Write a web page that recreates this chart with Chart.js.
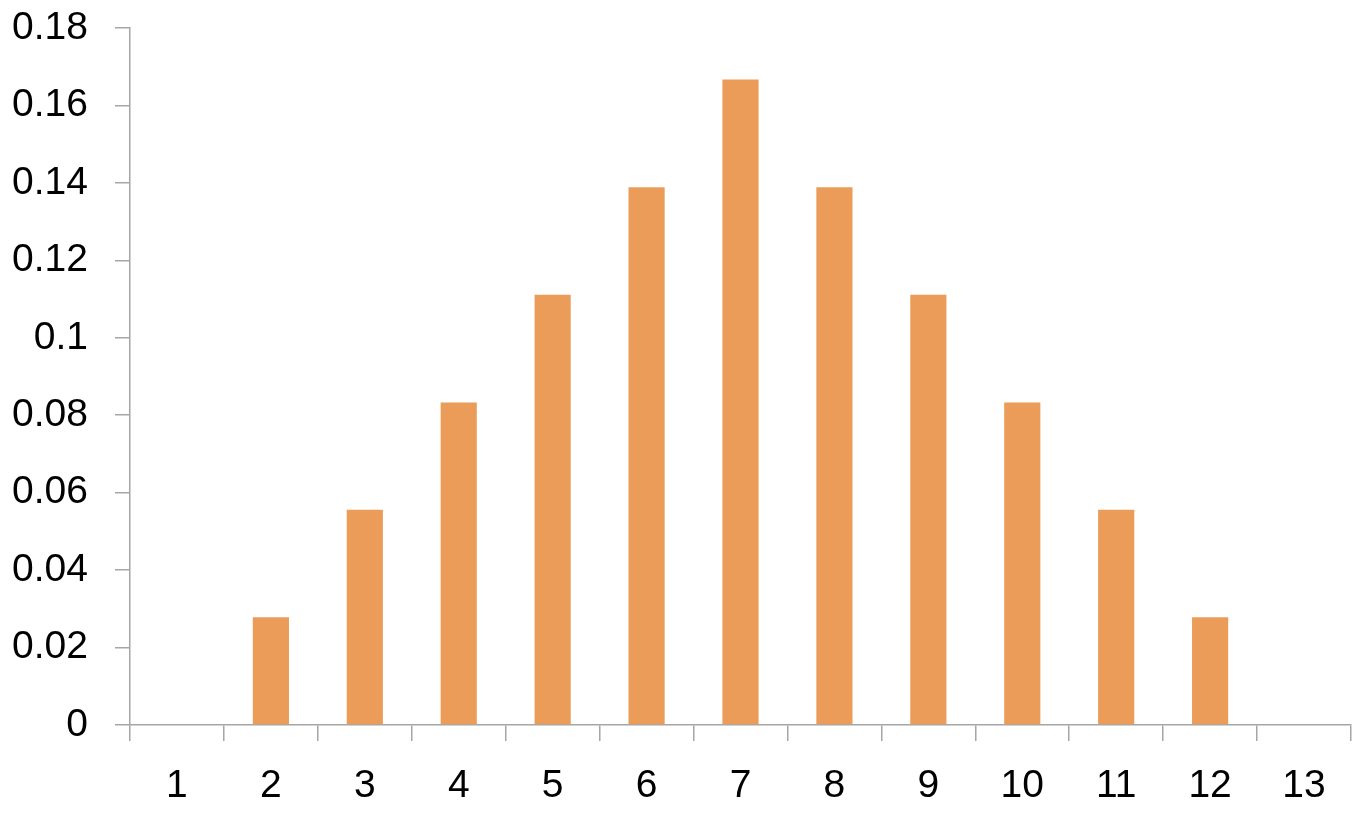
<!DOCTYPE html>
<html>
<head>
<meta charset="utf-8">
<script src="https://cdn.jsdelivr.net/npm/chart.js@4/dist/chart.umd.min.js"></script>
<style>
  html, body { margin: 0; padding: 0; background: #fff; }
  #wrap { width: 1368px; height: 816px; }
</style>
</head>
<body>
<div id="wrap"><canvas id="sumChart" width="1368" height="816"></canvas></div>
<script>
// categories (sum of two dice style) and probabilities
const categories = ['1', '2', '3', '4', '5', '6', '7', '8', '9', '10', '11', '12', '13'];
const probabilities = [0, 0.0278, 0.0556, 0.0833, 0.1111, 0.1389, 0.1667, 0.1389, 0.1111, 0.0833, 0.0556, 0.0278, 0];
const yMin = 0;
const yMax = 0.18;
const yStep = 0.02;

const axisGray = '#a6a6a6';
const fontSpec = { family: '"Liberation Sans", Arial, sans-serif', size: 39 };

const sumChart = new Chart(document.getElementById('sumChart'), {
  type: 'bar',
  data: {
    labels: categories,
    datasets: [{
      data: probabilities,
      backgroundColor: '#ea9c58',
      borderWidth: 0,
      barPercentage: 0.385,
      categoryPercentage: 1
    }]
  },
  options: {
    responsive: false,
    animation: false,
    layout: { padding: { top: 28, right: 17, bottom: 0, left: 0 } },
    plugins: {
      legend: { display: false },
      tooltip: { enabled: false }
    },
    scales: {
      x: {
        offset: true,
        grid: {
          offset: true,
          drawOnChartArea: false,
          drawTicks: true,
          tickLength: 16,
          color: axisGray,
          lineWidth: 1.5
        },
        border: { color: axisGray, width: 1.5 },
        ticks: { color: '#000', font: fontSpec, padding: 22, maxRotation: 0 },
        afterFit: function(scale) { scale.height = 91; }
      },
      y: {
        min: yMin,
        max: yMax,
        grid: {
          drawOnChartArea: false,
          drawTicks: true,
          tickLength: 15,
          color: axisGray,
          lineWidth: 1.5
        },
        border: { color: axisGray, width: 1.5 },
        ticks: {
          stepSize: yStep,
          color: '#000',
          font: fontSpec,
          padding: 27,
          callback: function(value) {
            return String(+value.toFixed(2));
          }
        },
        afterFit: function(scale) {
          scale.width = 130;
          scale.paddingTop = 0;
          scale.paddingBottom = 0;
        }
      }
    }
  }
});
</script>
</body>
</html>
